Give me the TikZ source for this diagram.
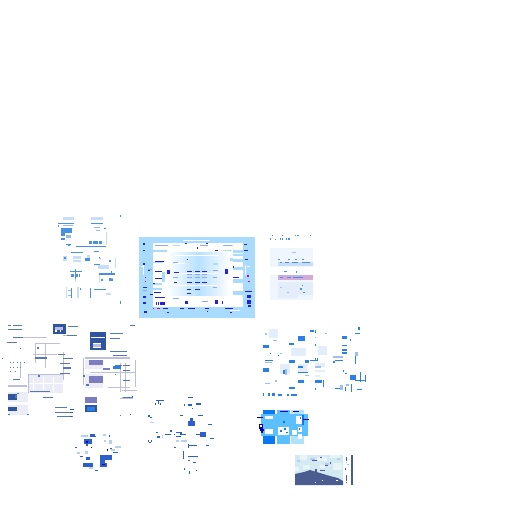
\documentclass[tikz,border=0pt]{standalone}
\definecolor{dk}{HTML}{2222DD}
\definecolor{pb}{HTML}{A9DBFF}
\definecolor{mp}{HTML}{8FA8F0}
\definecolor{nv}{HTML}{2F55A0}
\definecolor{lv}{HTML}{BDBDE2}
\definecolor{lv2}{HTML}{7C7CC0}
\definecolor{gy}{HTML}{ECECF6}
\definecolor{tb}{HTML}{4A8FE6}
\definecolor{tp}{HTML}{C8DDF9}
\definecolor{rb}{HTML}{2A7FE8}
\definecolor{rp}{HTML}{E4EEFB}
\definecolor{sk}{HTML}{5CBFFF}
\definecolor{sd}{HTML}{0A78F5}
\definecolor{sp}{HTML}{B0E2FF}
\definecolor{tr}{HTML}{4A5C90}
\definecolor{ice}{HTML}{D4EAF2}
\definecolor{cb}{HTML}{2A5FCC}
\definecolor{cp}{HTML}{B8CFF2}
\newcommand{\bx}[2]{\foreach \a/\b/\c/\d in {#2} \fill[#1] (\a,\b) rectangle ++(\c,\d);}
\tikzset{zoomed/.style={shift={(#1)},scale=1/3}}
\begin{document}
\begin{tikzpicture}[x=1pt,y=-1pt]
\useasboundingbox (0,0) rectangle (512,512);
\fill[white] (0,0) rectangle (512,512);
% central panel
\begin{scope}[zoomed={130,230}]
\fill[pb] (27,22) rectangle (375,265);
\fill[white] (69,40) rectangle (340,232);
\fill[left color=white,right color=white,middle color=pb!85] (110,68) rectangle (300,195);
\bx{white}{135/75/130/3,135/100/30/3,135/130/130/3,135/165/130/3}
\bx{pb}{308/60/32/9,308/72/32/5,308/88/32/8,308/112/32/8,308/148/32/10,308/182/32/12,69/60/30/5,69/95/30/4,96/125/8/30,69/175/27/4,69/160/27/6,250/100/15/4,280/45/30/4,280/60/20/4,130/45/20/3,100/60/12/6,300/85/10/8}
\bx{white}{160/30/80/3,40/105/3/30,345/105/3/30,32/108/6/2,350/108/10/2,300/240/30/3}
\bx{mp}{75/45/40/3,250/120/15/3,250/142/12/3,250/170/12/3,130/95/15/3,130/140/15/3,210/45/25/3,280/45/25/3,130/205/18/3,215/212/20/3,170/133/15/3,195/133/15/3,217/133/15/3,170/142/15/3,195/142/15/3,217/142/15/3,55/118/10/3,40/180/10/3,300/60/3/3}
\bx{dk}{40/40/5/5,40/60/4/4,40/100/4/4,40/172/10/3,40/198/8/6,40/215/8/6,42/243/9/6,343/42/8/3,343/60/10/3,345/88/8/3,345/182/22/4,350/195/14/8,350/210/14/12,355/225/8/6,
110/120/10/12,285/118/10/14,132/125/15/3,170/122/15/3,195/122/15/3,217/122/15/3,170/155/15/3,195/155/15/3,217/155/15/3,170/178/14/3,195/178/14/3,132/155/10/3,172/88/3/3,75/202/30/3,78/215/3/10,84/215/3/10,90/215/16/10,165/213/8/10,255/210/8/12,275/212/3/10,200/52/3/6,165/40/5/2,228/40/5/3,75/122/22/3,75/145/22/3,72/185/22/3,75/94/28/3,310/142/18/3,310/108/3/6,
100/235/15/2,150/235/12/2,175/235/20/2,225/235/12/2,285/235/25/2,300/245/6/2,110/245/6/2,230/243/3/3,170/188/12/3,255/60/8/3,68/160/8/3,55/120/4/3,60/192/8/3}
\bx{magenta!85!blue}{352/135/6/6,354/153/6/3,45/142/3/3,45/153/3/3,70/233/3/3,80/233/10/3}
\end{scope}
% left network
\begin{scope}[zoomed={0,315}]
\bx{gy}{85/178/105/55}
\bx{white}{100/190/3/40,130/185/3/45,160/185/3/45,88/205/100/3}
\bx{lv}{25/210/55/6,105/85/2/60,105/85/75/2,100/118/70/2,85/178/105/2,85/180/2/55,190/110/2/85,135/85/2/75,255/127/135/6,375/145/2/85,360/145/2/85,270/170/135/2,325/215/65/2,405/135/2/80,190/60/35/3,40/65/100/2,250/130/2/80,60/140/2/50}
\bx{nv}{158/28/40/28,270/52/48/52}
\bx{lv}{270/135/40/2}
\bx{white}{272/66/44/4,166/36/4/14,180/36/4/14,278/85/25/14}
\bx{lv}{278/88/25/8,165/35/25/10}
\bx{gy}{25/232/60/30,25/270/60/30,255/135/55/28,255/178/55/42}
\bx{nv}{25/238/26/18,25/275/26/14}
\bx{lv2}{268/135/40/16,268/182/40/22,255/245/36/18,255/270/36/20,310/158/20/7}
\bx{rb}{255/275/36/12,338/152/24/10}
\bx{nv!80}{25/30/8/3,40/30/25/3,25/42/40/2,40/65/30/2,20/82/30/2,110/95/8/8,105/125/35/6,30/142/3/3,40/142/3/3,50/142/3/3,60/142/3/3,72/142/3/3,30/155/3/3,40/155/3/3,50/155/3/3,60/155/3/3,30/168/3/3,45/168/3/3,40/192/20/4,175/118/20/3,190/128/30/2,180/145/30/2,190/155/22/8,180/175/30/2,205/32/30/2,200/60/30/2,330/55/40/2,330/70/30/2,330/108/50/2,340/120/40/2,390/30/15/2,345/150/20/3,345/178/3/3,370/150/20/3,370/165/20/3,370/195/20/3,370/245/30/2,115/180/6/6,130/245/30/2,165/275/35/2,165/290/50/2,170/302/50/2,360/300/3/3,60/100/3/3,5/130/3/3,250/180/6/6,258/208/8/5,90/228/60/2,45/240/5/8}
\bx{rb}{80/298/8/3,24/298/6/3,52/234/6/3}
\end{scope}
% top-left cluster
\begin{scope}[zoomed={50,205}]
\bx{tp}{39/36/33/10,123/36/37/9,145/180/33/12,68/153/25/9,110/150/10/18,168/80/3/40,195/160/2/30,68/165/25/6,80/245/8/35,47/247/4/32,167/263/16/7,40/152/10/15,148/210/3/25,75/220/3/12}
\bx{tb}{24/54/48/3,123/54/37/3,33/70/33/15,33/85/12/7,33/98/12/6,48/117/15/3,53/120/6/3,78/122/90/3,117/108/9/10,129/108/15/8,147/108/9/10,62/141/37/3,131/138/16/3,131/177/19/3,147/204/48/6,183/198/3/6,60/198/36/3,75/192/3/30,63/206/8/10,75/206/8/10,86/206/5/10,105/158/14/10,42/155/6/8,152/222/8/6,177/222/12/6,177/218/8/6,63/249/3/30,120/250/3/28,131/252/36/3,162/69/6/3,210/30/3/6,210/288/3/9,24/60/3/5,90/250/3/4,177/165/6/6,148/155/3/3}
\bx{tb!60}{48/90/15/9,131/65/20/3,138/75/12/3,55/255/8/4,55/270/8/4,182/218/6/5,148/160/6/3,40/60/28/3}
\end{scope}
% top-right page
\begin{scope}[zoomed={260,225}]
\bx{rp!55}{30/70/130/155}
\bx{rp}{54/170/60/50,114/170/45/40}
\bx{white}{30/125/130/25}
\bx{tp}{54/110/105/12}
\bx{magenta!20!tp}{54/150/105/14}
\bx{tb}{30/40/3/6,45/42/3/3,60/40/3/6,66/40/3/6,78/40/3/6,85/40/5/6,105/30/3/3,112/30/5/3,150/30/3/3,54/102/6/3,84/102/6/3,105/102/6/3,126/102/6/3,72/138/10/3,108/138/3/6,60/112/6/3,75/112/12/3,95/112/20/3,125/112/25/3,60/157/10/3,80/157/12/3,100/157/30/3,120/190/6/6,126/180/3/3,130/200/6/3,36/30/3/3,65/30/3/3}
\bx{tp!85!blue}{95/80/12/3,60/185/6/3,80/200/6/3}
\end{scope}
% right cluster
\begin{scope}[zoomed={255,320}]
\bx{rp}{108/84/45/24,75/132/30/30,190/78/27/27,42/28/27/25,128/132/27/24,180/130/30/12,180/150/30/6,180/165/15/6}
\bx{rb}{128/48/21/15,24/75/18/9,24/144/18/12,129/180/18/9,261/48/15/9,261/75/15/3,261/87/15/6,261/96/15/6,102/69/15/6,102/120/18/9,102/201/18/6,180/180/21/9,285/165/18/15,309/21/6/9,180/30/3/9,180/72/3/6,165/30/12/6,129/138/15/6,129/156/30/3,24/220/3/9,40/220/6/9,50/220/10/9,70/222/12/6,96/222/6/6,108/222/18/6,285/57/3/6,300/40/15/3,300/105/3/27,240/120/25/3,235/123/6/6,180/114/3/6,186/114/3/9,204/180/3/21,270/200/3/12,288/192/3/24,240/204/15/3,306/207/15/3,180/204/3/6,265/150/3/6,270/160/6/3,315/155/3/30,330/165/3/20,300/180/30/3,45/100/3/3,30/120/24/3,70/105/3/3,84/150/9/12,165/120/25/3,150/120/12/9}
\bx{tb!55}{90/148/6/16,235/108/30/6,300/96/9/12,180/138/18/6,150/165/12/3,60/180/6/6,30/190/15/3,255/195/9/15,273/192/9/6,30/40/6/6,55/60/12/3,30/125/20/3,75/100/6/3,180/50/3/3,210/40/6/3}
\end{scope}
% tile grid and terrain
\begin{scope}[zoomed={250,400}]
\fill[sk] (33,42) rectangle (174,108);
\bx{sd}{39/30/36/12,39/108/36/24}
\bx{sk}{81/30/39/12,81/108/39/24}
\bx{sp}{123/30/39/12,123/108/39/24}
\bx{white}{45/48/24/9,84/81/33/24,126/90/15/15,45/87/24/15,138/48/18/24,144/81/12/15,144/102/12/15}
\bx{sd}{156/45/6/30,90/90/6/6,102/84/6/6,108/96/6/3,150/51/3/6,57/33/3/3,100/63/6/6,147/84/3/6}
\bx{blue!70!black}{21/51/18/3,27/72/12/15,33/93/6/6,159/57/18/3,30/87/12/6,90/33/24/2,129/33/18/2}
\bx{white}{31/76/4/5}
\fill[ice] (135,165) rectangle (279,255);
\bx{ice!55}{150/165/20/15,200/170/30/12,250/190/25/20,160/195/20/12,240/165/30/9,135/200/12/12,210/195/15/9}
\bx{ice!80!blue!80}{180/175/15/6,225/190/12/6,140/180/9/6,260/175/9/6}
\fill[tr] (135,222) -- (162,216) -- (180,210) -- (210,219) -- (240,228) -- (264,234) -- (279,243) -- (279,255) -- (135,255) -- cycle;
\bx{tr}{303/165/6/90,153/222/6/6,195/207/6/9,210/210/15/3,225/195/9/3,186/180/15/3,240/186/3/6,210/171/6/3}
\bx{white}{195/246/3/3,216/240/3/3,258/240/6/3}
\bx{tr}{288/171/3/12,285/204/3/6,288/225/3/18,288/246/3/3}
\bx{sk!70}{291/192/6/3,288/186/3/3}
\end{scope}
% bottom clusters
\begin{scope}[zoomed={70,390}]
\bx{cp}{33/135/20/6,99/132/9/6,117/150/9/12,123/177/12/6,57/228/12/9,21/186/9/6,45/183/9/9,102/150/6/6,135/168/18/6}
\bx{cb}{60/132/15/9,42/147/24/15,48/162/6/6,90/195/36/15,90/210/15/9,39/219/30/12,90/219/21/12,48/201/12/9,129/186/15/3,75/240/9/3,120/174/6/3,138/186/3/3,15/171/6/3,30/198/9/3,117/135/3/6,75/138/3/3}
\bx{blue!70!black}{63/171/3/3,111/177/3/6,48/153/6/6,96/222/9/3}
\bx{lv}{150/24/40/3,155/0/45/4,155/20/3/6}
\bx{cb}{165/20/3/3,175/20/3/3,186/18/3/3}
\bx{cb}{258/30/24/3,255/39/3/6,270/39/3/6,264/30/3/12,342/42/3/6,354/42/12/6,378/39/15/6,354/21/15/2,366/54/3/3,354/93/21/15,360/84/9/9,390/126/18/15,378/132/12/2,285/132/18/3,300/120/6/6,330/126/6/6,318/126/15/3,318/138/15/3,312/132/3/3,330/132/3/3,333/132/15/2,420/144/12/3,414/102/12/3,330/75/9/3,384/75/15/3,234/150/3/6,243/150/3/6,237/156/6/3,234/75/6/6,240/81/6/3,258/126/6/3,262/138/9/6,354/162/3/12,354/165/27/3,312/171/6/3,408/165/9/3,340/183/3/24,354/198/30/3,354/210/6/3,369/216/9/3,342/234/3/6,357/243/3/9,378/240/3/3,180/72/3/3}
\bx{cp}{333/150/18/6,240/96/12/3,276/135/3/9,318/150/9/6}
\bx{white}{318/129/12/7}
\bx{lv2}{45/21/36/18}
\bx{nv}{45/45/36/21}
\bx{rb}{51/50/24/12}
\bx{nv}{0/57/12/3,0/66/9/3,0/78/6/3}
\end{scope}
\end{tikzpicture}
\end{document}
